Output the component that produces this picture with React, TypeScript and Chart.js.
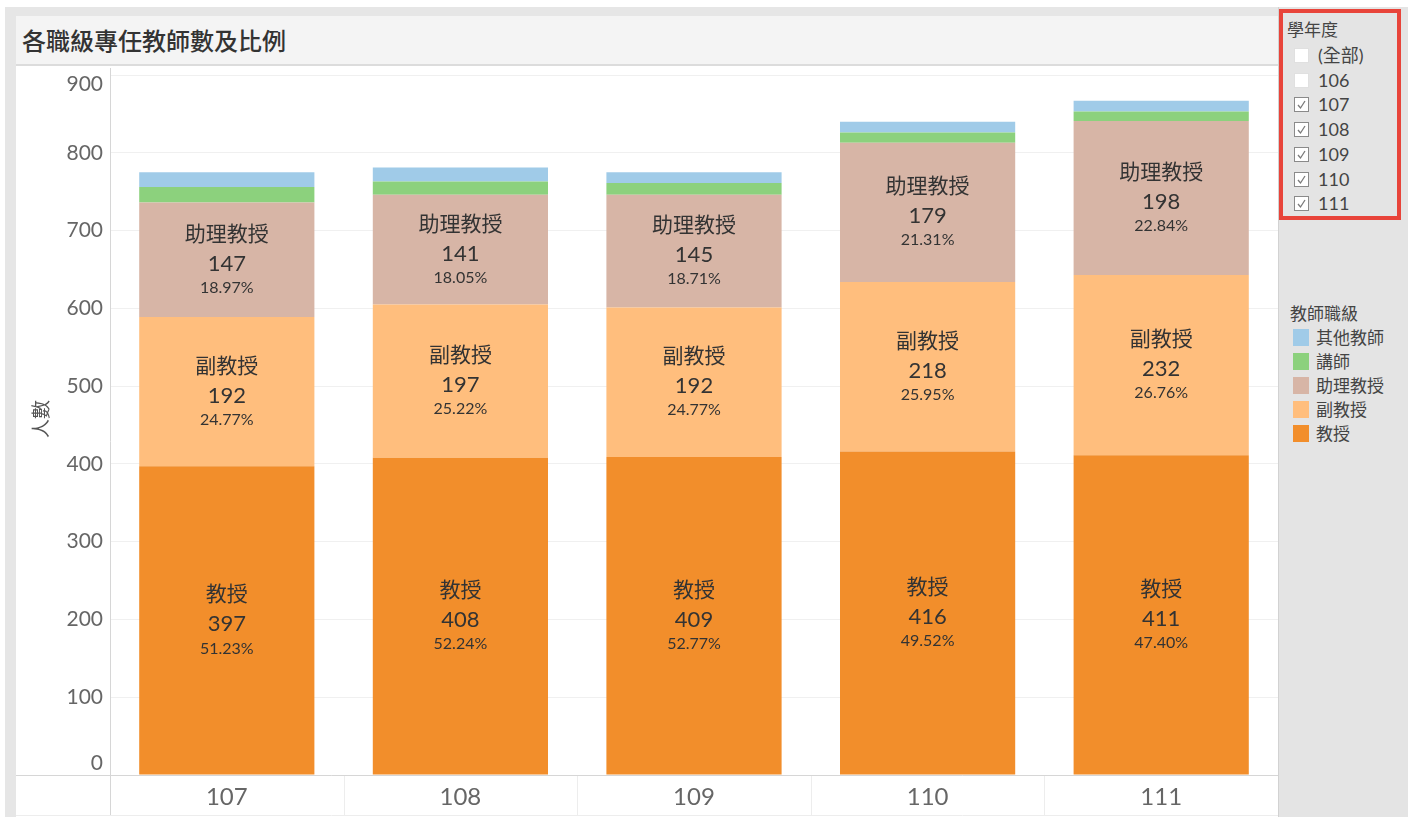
import React, { useEffect, useRef } from "react";
import { Chart, registerables } from "chart.js";

Chart.register(...registerables);

// ---------- data ----------
const years = ["107", "108", "109", "110", "111"];
const professor = [397, 408, 409, 416, 411];
const associateProf = [192, 197, 192, 218, 232];
const assistantProf = [147, 141, 145, 179, 198];
const lecturer = [20, 17, 15, 13, 12];
const otherTeachers = [19, 18, 14, 14, 14];
const seriesNames = ["教授", "副教授", "助理教授", "講師", "其他教師"];
const seriesColors = ["#f28e2b", "#ffbe7d", "#d7b5a6", "#8cd17d", "#a0cbe8"];
const yTickValues = [0, 100, 200, 300, 400, 500, 600, 700, 800, 900];
const filterTitle = "學年度";
const filterLabels = ["(全部)", "106", "107", "108", "109", "110", "111"];
const filterChecked = [false, false, true, true, true, true, true];
const legendTitle = "教師職級";
const legendOrder = [4, 3, 2, 1, 0];
const chartTitle = "各職級專任教師數及比例";
const yAxisTitle = "人數";

const seriesValues = [professor, associateProf, assistantProf, lecturer, otherTeachers];
const labelledSeries = [0, 1, 2];

const FONT = 'Lato, "Noto Sans CJK TC", sans-serif';
const CJK = '"Noto Sans CJK TC", sans-serif';

const overlayPlugin = {
  id: "overlay",
  afterDatasetsDraw(chart: any) {
    const ctx = chart.ctx;
    const totals = years.map((_, i) => seriesValues.reduce((s, arr) => s + arr[i], 0));
    ctx.save();
    ctx.textAlign = "center";
    ctx.textBaseline = "middle";
    ctx.fillStyle = "#333333";
    labelledSeries.forEach((di) => {
      const meta = chart.getDatasetMeta(di);
      meta.data.forEach((bar: any, i: number) => {
        const v = seriesValues[di][i];
        const cy = (bar.y + bar.base) / 2;
        ctx.font = `21px ${CJK}`;
        ctx.fillText(seriesNames[di], bar.x, cy - 27);
        ctx.font = `22px ${FONT}`;
        ctx.fillText(String(v), bar.x, cy + 4);
        ctx.font = `16px ${FONT}`;
        ctx.fillText(((v / totals[i]) * 100).toFixed(2) + "%", bar.x, cy + 28);
      });
    });
    ctx.restore();
  },
  afterDraw(chart: any) {
    const ctx = chart.ctx;
    const { left, bottom } = chart.chartArea;
    const W = chart.width;
    const H = chart.height;
    ctx.save();
    ctx.strokeStyle = "#d6d6d6";
    ctx.lineWidth = 1;
    ctx.beginPath();
    ctx.moveTo(0, Math.round(bottom) + 0.5);
    ctx.lineTo(W, Math.round(bottom) + 0.5);
    ctx.moveTo(Math.round(left) + 0.5, 0);
    ctx.lineTo(Math.round(left) + 0.5, H - 2);
    ctx.stroke();
    // category separators in axis band
    const xs = chart.scales.x;
    ctx.strokeStyle = "#ededed";
    ctx.beginPath();
    for (let i = 1; i < years.length; i++) {
      const x = Math.round((xs.getPixelForValue(i - 1) + xs.getPixelForValue(i)) / 2) + 0.5;
      ctx.moveTo(x, bottom + 1);
      ctx.lineTo(x, H - 2);
    }
    ctx.stroke();
    ctx.beginPath();
    ctx.moveTo(0, H - 1.5);
    ctx.lineTo(W, H - 1.5);
    ctx.stroke();
    // y tick labels (Tableau-style: end labels pulled inside)
    const ys = chart.scales.y;
    const maxV = yTickValues[yTickValues.length - 1];
    ctx.fillStyle = "#666666";
    ctx.font = `21px ${FONT}`;
    ctx.textAlign = "right";
    ctx.textBaseline = "middle";
    yTickValues.forEach((v) => {
      let y = ys.getPixelForValue(v);
      if (v === maxV) y += 9;
      if (v === 0) y -= 12;
      ctx.fillText(String(v), left - 7, y);
    });
    // y title
    ctx.translate(25, 351);
    ctx.rotate(-Math.PI / 2);
    ctx.fillStyle = "#555555";
    ctx.font = `19px ${CJK}`;
    ctx.textAlign = "center";
    ctx.textBaseline = "middle";
    ctx.fillText(yAxisTitle, 0, 0);
    ctx.restore();
  },
};

function Checkbox({ checked }: { checked: boolean }) {
  return (
    <div
      style={{
        position: "absolute",
        left: 0,
        top: 0,
        width: 15,
        height: 15,
        background: "#ffffff",
        border: checked ? "1px solid #8a8a8a" : "1px solid #e0e0e0",
        boxSizing: "border-box",
      }}
    >
      {checked && (
        <svg width="13" height="13" viewBox="0 0 13 13" style={{ position: "absolute", left: 0, top: 0 }}>
          <polyline points="3,7 5.5,10 10,3" fill="none" stroke="#7a7a7a" strokeWidth="1.3" />
        </svg>
      )}
    </div>
  );
}

export default function App() {
  const canvasRef = useRef<HTMLCanvasElement | null>(null);

  useEffect(() => {
    if (!canvasRef.current) return;
    const chart = new Chart(canvasRef.current, {
      type: "bar",
      data: {
        labels: years,
        datasets: seriesValues.map((vals, i) => ({
          label: seriesNames[i],
          data: vals,
          backgroundColor: seriesColors[i],
          borderWidth: 0,
          barPercentage: 0.75,
          categoryPercentage: 1,
        })),
      },
      options: {
        animation: false,
        responsive: false,
        maintainAspectRatio: false,
        layout: { padding: { top: 7, left: 0, right: 0, bottom: 0 } },
        plugins: { legend: { display: false }, tooltip: { enabled: false }, title: { display: false } },
        scales: {
          x: {
            stacked: true,
            grid: { display: false, drawTicks: false },
            border: { display: false },
            ticks: { color: "#666666", font: { family: FONT, size: 24 }, padding: 8 },
            afterFit(scale: any) {
              scale.height = 42;
            },
          },
          y: {
            stacked: true,
            min: 0,
            max: 900,
            grid: { color: "#f0f0f0", drawTicks: false },
            border: { display: false },
            ticks: { stepSize: 100, display: false },
            afterFit(scale: any) {
              scale.width = 94;
            },
          },
        },
      },
      plugins: [overlayPlugin],
    });
    return () => chart.destroy();
  }, []);

  return (
    <div
      style={{
        position: "fixed",
        left: 0,
        top: 0,
        width: 1408,
        height: 817,
        background: "#ffffff",
        fontFamily: FONT,
        overflow: "hidden",
      }}
    >
      {/* outer gray frame */}
      <div style={{ position: "absolute", left: 5, top: 7, width: 1403, height: 810, background: "#e6e6e6" }} />
      {/* title band */}
      <div
        style={{
          position: "absolute",
          left: 16,
          top: 16,
          width: 1262,
          height: 50,
          background: "#f4f4f4",
          borderBottom: "2px solid #dcdcdc",
          boxSizing: "border-box",
        }}
      >
        <div
          style={{
            position: "absolute",
            left: 6,
            top: 9,
            fontFamily: CJK,
            fontSize: 24,
            fontWeight: 500,
            color: "#333333",
            whiteSpace: "nowrap",
            lineHeight: "30px",
          }}
        >
          {chartTitle}
        </div>
      </div>
      {/* plot white area */}
      <div style={{ position: "absolute", left: 16, top: 66, width: 1262, height: 751, background: "#ffffff" }} />
      <canvas
        ref={canvasRef}
        width={1262}
        height={749}
        style={{ position: "absolute", left: 16, top: 68, width: 1262, height: 749 }}
      />
      {/* right panel */}
      <div
        style={{
          position: "absolute",
          left: 1278,
          top: 7,
          width: 130,
          height: 810,
          background: "#e4e4e4",
          borderLeft: "1px solid #d2d2d2",
          boxSizing: "border-box",
        }}
      />
      {/* filter card with red frame */}
      <div
        style={{
          position: "absolute",
          left: 1279,
          top: 9,
          width: 122,
          height: 211,
          border: "4px solid #e8443a",
          boxSizing: "border-box",
        }}
      />
      <div
        style={{
          position: "absolute",
          left: 1287,
          top: 17,
          fontFamily: CJK,
          fontSize: 17,
          color: "#444444",
          lineHeight: "24px",
        }}
      >
        {filterTitle}
      </div>
      {filterLabels.map((lab, i) => (
        <div key={lab} style={{ position: "absolute", left: 1294, top: 48 + i * 24.7, height: 16 }}>
          <Checkbox checked={filterChecked[i]} />
          <div
            style={{
              position: "absolute",
              left: 24,
              top: -5,
              fontFamily: FONT,
              fontSize: 18,
              color: "#444444",
              whiteSpace: "nowrap",
              lineHeight: "24px",
            }}
          >
            {lab}
          </div>
        </div>
      ))}
      {/* legend */}
      <div
        style={{
          position: "absolute",
          left: 1290,
          top: 301,
          fontFamily: CJK,
          fontSize: 17,
          color: "#444444",
          lineHeight: "24px",
          whiteSpace: "nowrap",
        }}
      >
        {legendTitle}
      </div>
      {legendOrder.map((si, k) => (
        <div key={si} style={{ position: "absolute", left: 1293, top: 329 + k * 24, height: 17 }}>
          <div style={{ position: "absolute", left: 0, top: 0, width: 16, height: 17, background: seriesColors[si] }} />
          <div
            style={{
              position: "absolute",
              left: 23,
              top: -4,
              fontFamily: CJK,
              fontSize: 17,
              color: "#444444",
              whiteSpace: "nowrap",
              lineHeight: "24px",
            }}
          >
            {seriesNames[si]}
          </div>
        </div>
      ))}
    </div>
  );
}
